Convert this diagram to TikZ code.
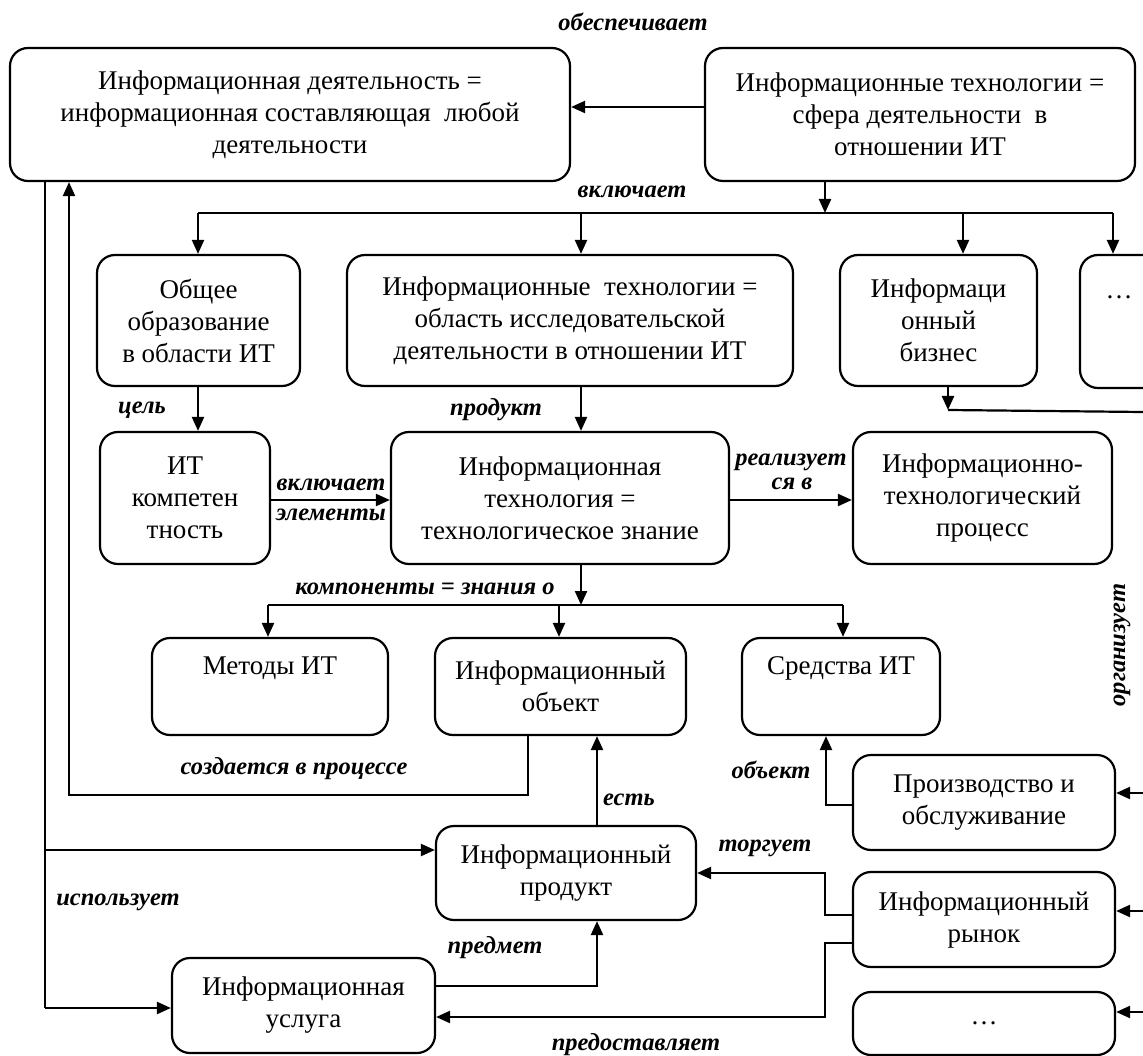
\documentclass[tikz,border=0pt]{standalone}
\usepackage{fontspec}
\setmainfont{Liberation Serif}
\usetikzlibrary{arrows.meta}
\newcommand\bxfont{\fontsize{27pt}{32pt}\selectfont}
\newcommand\lbfont{\fontsize{24.5pt}{27pt}\selectfont\bfseries\itshape}
\begin{document}
\begin{tikzpicture}[x=1pt,y=-1pt,
  box/.style={draw, rounded corners=18pt, line width=2.2pt, align=center, font=\bxfont, inner sep=0pt},
  lbl/.style={font=\lbfont, inner sep=0pt},
  ln/.style={line width=2.2pt},
  arr/.style={line width=2.2pt, -{Triangle[length=14pt,width=12pt]}}]
\useasboundingbox (0,0) rectangle (1143,1056);
\fill[white] (0,0) rectangle (1143,1056);
% boxes
\node[box, minimum width=560, minimum height=133] (A) at (290,114.5) {Информационная деятельность =\\информационная составляющая\ \ любой\\деятельности};
\node[box, minimum width=430, minimum height=133] (B) at (920,114.5) {Информационные технологии =\\сфера деятельности\ \ в\\отношении ИТ};
\node[box, minimum width=203, minimum height=131] (C) at (198.5,320.5) {Общее\\образование\\в области ИТ};
\node[box, minimum width=446, minimum height=131] (D) at (570,320.5) {Информационные\ \ технологии =\\область исследовательской\\деятельности в отношении ИТ};
\node[box, minimum width=197, minimum height=131] (E) at (938.5,320.5) {Информаци\\онный\\бизнес};
\node[box, minimum width=120, minimum height=133] (F) at (1140,321.5) {};
\node[font=\bxfont, inner sep=0pt] (Fd) at (1119,297) {…};
\node[box, minimum width=170, minimum height=132] (G) at (185,498) {ИТ\\компетен\\тность};
\node[box, minimum width=338, minimum height=132] (H) at (560,498) {Информационная\\технология =\\технологическое знание};
\node[box, minimum width=259, minimum height=132] (I) at (982.5,498) {Информационно-\\технологический\\процесс};
\node[box, minimum width=236, minimum height=97] (J) at (270,686.5) {Методы ИТ\\\strut};
\node[box, minimum width=251, minimum height=97] (K) at (560.5,686.5) {Информационный\\объект};
\node[box, minimum width=198, minimum height=97] (L) at (841,686.5) {Средства ИТ\\\strut};
\node[box, minimum width=260, minimum height=94] (P) at (566,873) {Информационный\\продукт};
\node[box, minimum width=263, minimum height=95] (S) at (303.5,1005.5) {Информационная\\услуга};
\node[box, minimum width=262, minimum height=95] (Pr) at (984,802.5) {Производство и\\обслуживание};
\node[box, minimum width=262, minimum height=95] (R) at (984,919.5) {Информационный\\рынок};
\node[box, minimum width=262, minimum height=63] (Q) at (984,1023.5) {…};
% labels
\node[lbl] (l1) at (633,22) {обеспечивает};
\node[lbl] (l2) at (632,192) {включает};
\node[lbl] (l3) at (142,410) {цель};
\node[lbl] (l4) at (496,410) {продукт};
\node[lbl] (l5) at (331,485) {включает};
\node[lbl] (l6) at (331,515) {элементы};
\node[lbl] (l7) at (791,462) {реализует};
\node[lbl] (l8) at (792,484) {ся в};
\node[lbl] (l9) at (425,589) {компоненты = знания о};
\node[lbl] (l10) at (294,769) {создается в процессе};
\node[lbl] (l11) at (629,800) {есть};
\node[lbl] (l12) at (771,770) {объект};
\node[lbl] (l13) at (765,848) {торгует};
\node[lbl] (l14) at (118,902) {использует};
\node[lbl] (l15) at (495,948) {предмет};
\node[lbl] (l16) at (636,1045) {предоставляет};
\node[lbl, rotate=90] (l17) at (1122,645) {организует};
% connectors
\coordinate (yAB) at (0,107);
\draw[arr] (B.west |- yAB) -- (A.east |- yAB);
\coordinate (bB) at (825,213);
\coordinate (bL) at (198,213);
\coordinate (bD) at (581,213);
\coordinate (bE) at (963,213);
\coordinate (bR) at (1113,213);
\draw[arr] (B.south -| bB) -- (bB);
\draw[ln] (bL) -- (bR);
\draw[arr] (bL) -- (C.north -| bL);
\draw[arr] (bD) -- (D.north -| bD);
\draw[arr] (bE) -- (E.north -| bE);
\draw[arr] (bR) -- (F.north -| bR);
\draw[arr] (C.south -| bL) -- (G.north -| bL);
\draw[arr] (D.south -| bD) -- (H.north -| bD);
\coordinate (yGH) at (0,500);
\draw[arr] (G.east |- yGH) -- (H.west |- yGH);
\draw[arr] (H.east |- yGH) -- (I.west |- yGH);
\coordinate (cH) at (581,605);
\coordinate (cJ) at (268,605);
\coordinate (cK) at (559,605);
\coordinate (cL) at (843,605);
\draw[arr] (H.south -| cH) -- (cH);
\draw[ln] (cJ) -- (cL);
\draw[arr] (cJ) -- (J.north -| cJ);
\draw[arr] (cK) -- (K.north -| cK);
\draw[arr] (cL) -- (L.north -| cL);
\coordinate (k1) at (528,795);
\coordinate (k2) at (69,795);
\draw[arr] (K.south -| k1) -- (k1) -- (k2) -- (A.south -| k2);
\coordinate (u0) at (45,850);
\coordinate (u1) at (45,1008);
\draw[ln] (A.south -| u0) -- (u1);
\draw[arr] (u0) -- (P.west |- u0);
\draw[arr] (u1) -- (S.west |- u1);
\coordinate (e1) at (597,0);
\draw[arr] (P.north -| e1) -- (K.south -| e1);
\coordinate (s1) at (597,986);
\draw[arr] (S.east |- s1) -- (s1) -- (P.south -| s1);
\coordinate (o1) at (826,805);
\draw[arr] (Pr.west |- o1) -- (o1) -- (L.south -| o1);
\coordinate (t1) at (825,915);
\coordinate (t2) at (825,873);
\draw[arr] (R.west |- t1) -- (t1) -- (t2) -- (P.east |- t2);
\coordinate (p1) at (825,943);
\coordinate (p2) at (825,1017);
\draw[arr] (R.west |- p1) -- (p1) -- (p2) -- (S.east |- p2);
\coordinate (r0) at (948,410);
\coordinate (rE) at (1143,412);
\draw[arr] (E.south -| r0) -- (r0);
\draw[ln] (r0) -- (rE);
\coordinate (rPr) at (1143,793);
\coordinate (rR) at (1143,911);
\coordinate (rQ) at (1143,1012);
\draw[arr] (rPr) -- (Pr.east |- rPr);
\draw[arr] (rR) -- (R.east |- rR);
\draw[arr] (rQ) -- (Q.east |- rQ);
\end{tikzpicture}
\end{document}
